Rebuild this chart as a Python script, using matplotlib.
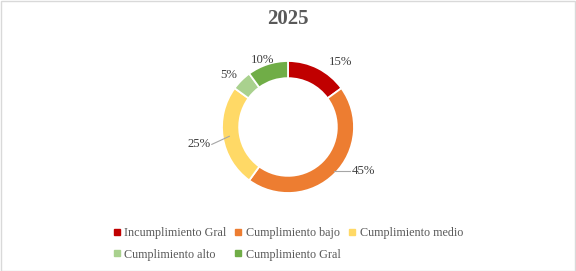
import matplotlib
matplotlib.use("Agg")
import matplotlib.pyplot as plt
import numpy as np
from matplotlib.patches import Rectangle
from matplotlib.lines import Line2D

plt.rcParams['font.family'] = ['Liberation Serif', 'DejaVu Serif']

title = "2025"
categories = ["Incumplimiento Gral", "Cumplimiento bajo", "Cumplimiento medio",
              "Cumplimiento alto", "Cumplimiento Gral"]
values = [15, 45, 25, 5, 10]
colors = ["#C00000", "#ED7D31", "#FFD966", "#A9D18E", "#70AD47"]

W, H = 576, 271
fig = plt.figure(figsize=(W / 100, H / 100), dpi=100)
fig.patches.append(Rectangle((0.5 / W, 0.5 / H), 1 - 1.5 / W, 1 - 1.5 / H,
                             transform=fig.transFigure, fill=False,
                             edgecolor="#D9D9D9", linewidth=1))

cx, cy, R = 288, 127, 66
ax = fig.add_axes([(cx - R) / W, (H - cy - R) / H, 2 * R / W, 2 * R / H])
wedges, _ = ax.pie(values, colors=colors, startangle=90, counterclock=False,
                   radius=1.0, wedgeprops=dict(width=0.26, edgecolor="white", linewidth=1.3))
ax.set_xlim(-1, 1)
ax.set_ylim(-1, 1)
ax.set_aspect("equal")
ax.axis("off")

# label placement (radial factor, angle tweak in degrees, leader line?)
place = [(1.26, -12, False), (1.32, 15, True), (1.38, 2, True), (1.2, 4, False), (1.09, 3, False)]
for w, v, (rf, dth, lead) in zip(wedges, values, place):
    mid = np.deg2rad((w.theta1 + w.theta2) / 2)
    a = mid + np.deg2rad(dth)
    tx, ty = rf * np.cos(a), rf * np.sin(a)
    ax.text(tx, ty, f"{v}%", ha="center", va="center", fontsize=9.2,
            color="#404040", clip_on=False)
    if lead:
        ex = tx - 0.2 * np.sign(tx)
        if tx > 0:
            px = np.sqrt(max(0.0, 1 - ty ** 2)) - 0.06
            py = ty
        else:
            px, py = 0.9 * np.cos(mid), 0.9 * np.sin(mid)
        ax.plot([px, ex], [py, ty], color="#A6A6A6", linewidth=0.8, clip_on=False)

fig.text(0.5, 1 - 19 / H, title, ha="center", va="center", fontsize=15,
         fontweight="bold", color="#595959")

handles = [Line2D([], [], marker="s", linestyle="none", markersize=4.2,
                  markerfacecolor=c, markeredgecolor=c) for c in colors]
order = [0, 3, 1, 4, 2]
fig.legend([handles[i] for i in order], [categories[i] for i in order],
           loc="center", bbox_to_anchor=(0.5, 1 - 244 / H), ncol=3, frameon=False,
           fontsize=8.7, labelcolor="#595959", handlelength=0.6, handletextpad=0.3,
           columnspacing=0.7, labelspacing=0.75, borderpad=0)

fig.savefig("out.png", dpi=100)
